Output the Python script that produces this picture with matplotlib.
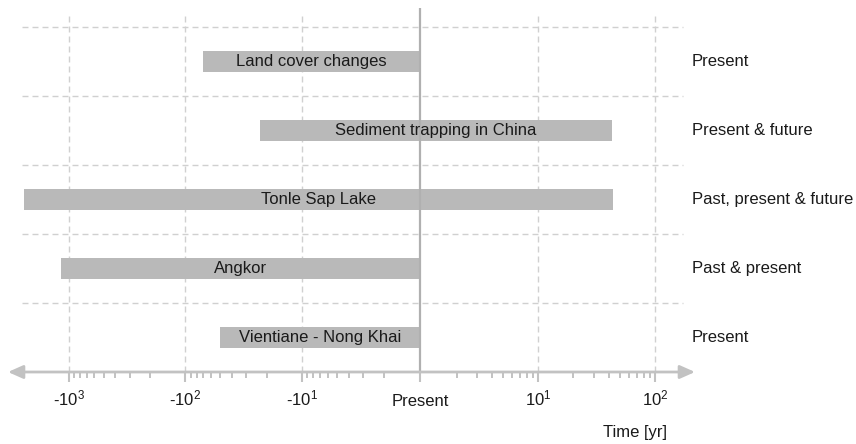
import numpy as np
import matplotlib
matplotlib.use('Agg')
import matplotlib.pyplot as plt
from matplotlib.patches import FancyArrowPatch
from matplotlib.ticker import FixedLocator
from matplotlib.transforms import blended_transform_factory

plt.rcParams['font.family'] = ['Liberation Sans', 'DejaVu Sans']
plt.rcParams['mathtext.default'] = 'regular'

# ── Data ────────────────────────────────────────────────────────────────────
labels  = ['Land cover changes', 'Sediment trapping in China', 'Tonle Sap Lake',
           'Angkor', 'Vientiane - Nong Khai']
t_start = [-70, -23, -2400, -1150, -50]      # years relative to present
t_end   = [0, 43, 44, 0, 0]
periods = ['Present', 'Present & future', 'Past, present & future',
           'Past & present', 'Present']

major_ticks  = [-1000, -100, -10, 0, 10, 100]
major_labels = ['-$10^3$', '-$10^2$', '-$10^1$', 'Present', '$10^1$', '$10^2$']

GRID = '#d0d0d0'
AXC  = '#c2c2c2'
BAR  = '#b9b9b9'
TXT  = '#1a1a1a'

# ── Plot ────────────────────────────────────────────────────────────────────
fig = plt.figure(figsize=(8.56, 4.44), dpi=100)
ax = fig.add_axes([8/856, 1 - 372/444, 687/856, 364/444])

ax.set_xscale('symlog', linthresh=1, linscale=0.01)
ax.set_xlim(-3300, 220)
ax.set_ylim(4.5, -0.77)

for s in ax.spines.values():
    s.set_visible(False)
ax.set_yticks([])

ypos = np.arange(len(labels))
ax.barh(ypos, np.array(t_end) - np.array(t_start), left=t_start,
        height=0.3, color=BAR, zorder=2)

# dashed grid
dash = (0, (4.3, 2.9))
ax.hlines(ypos - 0.5, 0.02, 0.9825, transform=ax.get_yaxis_transform(),
          colors=GRID, lw=1, linestyles=[dash], zorder=1)
for xv in major_ticks:
    if xv != 0:
        ax.plot([xv, xv], [4.5, -0.67], color=GRID, lw=1, ls=dash, zorder=1)
ax.axvline(0, color='#b0b0b0', lw=1.6, zorder=3)

# axis with arrows
arr = FancyArrowPatch((0, 0), (1, 0), transform=ax.transAxes,
                      arrowstyle='<|-|>,head_length=0.9,head_width=0.4',
                      mutation_scale=10, color=AXC, lw=2, shrinkA=0, shrinkB=0,
                      clip_on=False, zorder=4)
ax.add_patch(arr)

ax.set_xticks(major_ticks)
ax.set_xticklabels([])
minor = [s * k * 10**n for s in (-1, 1) for n in range(3) for k in range(2, 10)
         if not (s > 0 and n == 2)]
ax.xaxis.set_minor_locator(FixedLocator(minor))
ax.tick_params(axis='x', which='major', length=7.2, width=1.5, color=AXC)
ax.tick_params(axis='x', which='minor', length=4.2, width=1.4, color=AXC)

# tick labels on a common baseline
tl_tr = blended_transform_factory(ax.transData, fig.transFigure)
for xv, lab in zip(major_ticks, major_labels):
    ax.text(xv, 1 - 405.5/444, lab, transform=tl_tr, ha='center', va='baseline',
            fontsize=12, color=TXT, clip_on=False)

# bar labels centred in display space
fig.canvas.draw()
for y, a, b, lab in zip(ypos, t_start, t_end, labels):
    xa = ax.transData.transform((a, y))[0]
    xb = ax.transData.transform((b, y))[0]
    xm = ax.transData.inverted().transform(((xa + xb) / 2, 0))[0]
    ax.text(xm, y, lab, ha='center', va='center', fontsize=12, color=TXT, zorder=5)

for y, p in zip(ypos, periods):
    ax.text(0.9956, y, p, transform=ax.get_yaxis_transform(), ha='left', va='center',
            fontsize=12, color=TXT, clip_on=False)

fig.text(667/856, 1 - 432/444, 'Time [yr]', ha='right', va='center',
         fontsize=12, color=TXT)

plt.savefig('out.png', dpi=100)
plt.close()
